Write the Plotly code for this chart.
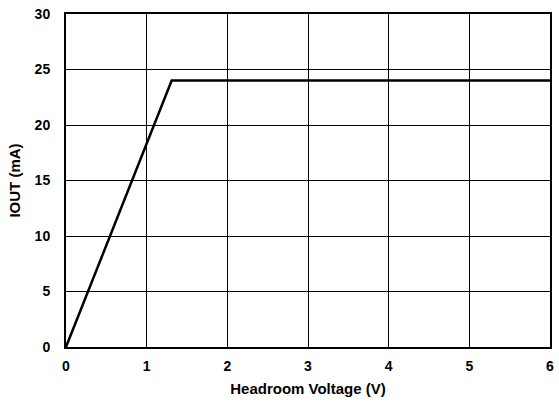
import plotly.graph_objects as go

# Output current vs headroom voltage
headroom_v = [0.0, 1.31, 6.0]
iout_ma = [0.0, 24.0, 24.0]

x_ticks = [0, 1, 2, 3, 4, 5, 6]
y_ticks = [0, 5, 10, 15, 20, 25, 30]

tick_font = dict(family="Liberation Sans, Arial, sans-serif", size=14, color="black")
title_font = dict(family="Liberation Sans, Arial, sans-serif", size=15, color="black")

fig = go.Figure()
fig.add_trace(go.Scatter(
    x=headroom_v, y=iout_ma, mode="lines",
    line=dict(color="black", width=2.5),
    showlegend=False,
))

fig.update_layout(
    width=559, height=404,
    margin=dict(l=66, r=5, t=14, b=57),
    paper_bgcolor="white", plot_bgcolor="white",
    font=tick_font,
)
fig.update_xaxes(
    range=[0, 6], tickvals=x_ticks, ticktext=[f"<b>{v}</b>" for v in x_ticks],
    tickfont=tick_font,
    showgrid=True, gridcolor="black", gridwidth=1,
    showline=True, linecolor="black", linewidth=2, mirror=True,
    zeroline=False, ticks="outside", ticklen=5, tickcolor="rgba(0,0,0,0)",
    title=dict(text="<b>Headroom Voltage (V)</b>", standoff=11, font=title_font),
)
fig.update_yaxes(
    range=[0, 30], tickvals=y_ticks, ticktext=[f"<b>{v}</b>" for v in y_ticks],
    tickfont=tick_font,
    showgrid=True, gridcolor="black", gridwidth=1,
    showline=True, linecolor="black", linewidth=2, mirror=True,
    zeroline=False, ticks="outside", ticklen=11, tickcolor="rgba(0,0,0,0)",
    title=dict(text="<b>IOUT (mA)</b>", standoff=10, font=title_font),
)

fig.write_html("out.html")
